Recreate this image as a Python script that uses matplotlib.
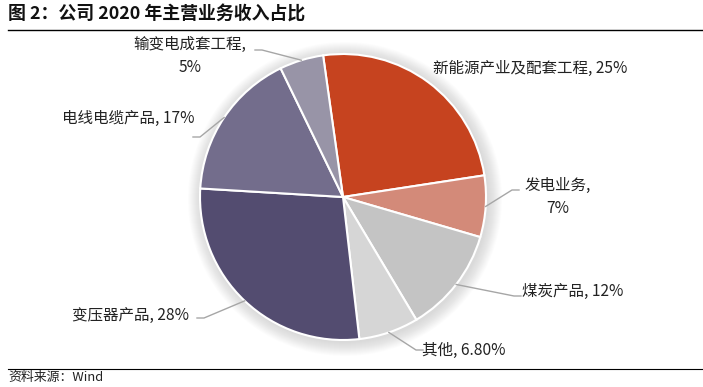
import numpy as np
import matplotlib
matplotlib.use('Agg')
import matplotlib.pyplot as plt
from matplotlib.patches import Circle

plt.rcParams['font.family'] = ['Noto Sans CJK SC', 'DejaVu Sans']

# data
labels = ['新能源产业及配套工程, 25%', '发电业务,\n7%', '煤炭产品, 12%', '其他, 6.80%',
          '变压器产品, 28%', '电线电缆产品, 17%', '输变电成套工程,\n5%']
values = [25, 7, 12, 6.8, 28, 17, 5]
colors = ['#C6431F', '#D38A79', '#C4C4C4', '#D6D6D6', '#534C70', '#736D8C', '#9894A7']

# label text positions (pixels, from top-left) and leader line knee
label_pos = [(530, 68), (558, 197), (573, 291), (464, 350), (130, 315), (128, 118), (190, 56)]
knee_pos = [None, (512, 190), (514, 296), (416, 350), (204, 318), (200, 137), (262, 50)]

W, H = 703, 387
cx, cy, r = 343, 197, 143
start = 98

fig = plt.figure(figsize=(W / 100, H / 100), dpi=100)
ax = fig.add_axes([0, 0, 1, 1])

# soft glow round the pie
for i in range(14):
    ax.add_patch(Circle((cx + 2, H - cy - 2), r + 1 + i, color='#808080', alpha=0.018, lw=0, zorder=0))

wedges, _ = ax.pie(values, colors=colors, startangle=start, counterclock=False,
                   center=(cx, H - cy), radius=r, frame=True,
                   wedgeprops=dict(edgecolor='white', linewidth=1.5))
ax.set_xlim(0, W)
ax.set_ylim(0, H)
ax.set_aspect('equal')
ax.axis('off')

for w, lab, pos, knee in zip(wedges, labels, label_pos, knee_pos):
    ax.text(pos[0], H - pos[1], lab, ha='center', va='center', fontsize=11.2,
            color='#222222', linespacing=1.45)
    if knee is None:
        continue
    mid = np.deg2rad((w.theta1 + w.theta2) / 2)
    x0 = cx + r * np.cos(mid)
    y0 = (H - cy) + r * np.sin(mid)
    kx, ky = knee[0], H - knee[1]
    ex = kx + (7 if kx > cx else -7)
    ax.plot([x0, kx, ex], [y0, ky, ky], color='#A6A6A6', lw=1, zorder=3)

# title and source
fig.text(8 / W, 1 - 14 / H, '图 2：公司 2020 年主营业务收入占比', fontsize=12.9,
         fontweight='bold', va='center', ha='left', color='#111111')
ax.plot([8, W], [H - 30, H - 30], color='black', lw=1)
ax.plot([8, W], [H - 369, H - 369], color='black', lw=0.8)
fig.text(8 / W, 1 - 378 / H, '资料来源：Wind', fontsize=9.3, va='center', ha='left', color='#222222')

fig.savefig('out.png', dpi=100, facecolor='white')
